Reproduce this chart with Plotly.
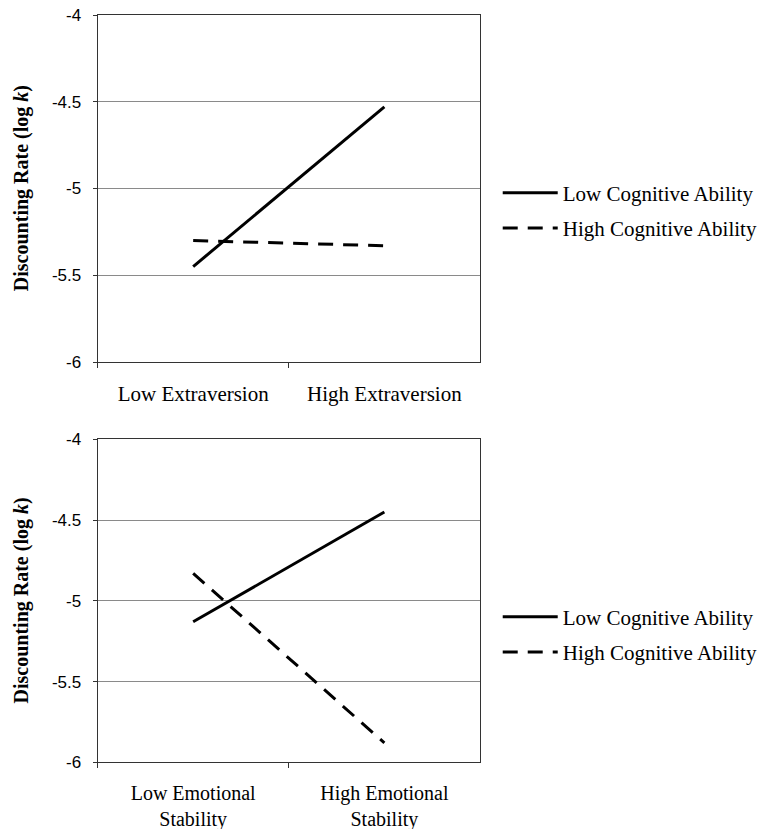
import plotly.graph_objects as go

# Data
top_categories = ["Low Extraversion", "High Extraversion"]
bottom_categories = ["Low Emotional<br>Stability", "High Emotional<br>Stability"]
series_names = ["Low Cognitive Ability", "High Cognitive Ability"]
top_low_ability = [-5.45, -4.53]
top_high_ability = [-5.30, -5.33]
bottom_low_ability = [-5.13, -4.45]
bottom_high_ability = [-4.83, -5.88]
y_tick_values = [-6, -5.5, -5, -4.5, -4]
y_tick_labels = ["-6", "-5.5", "-5", "-4.5", "-4"]
y_title = "Discounting Rate (log <i>k</i>)"

W, H = 763, 829
SERIF = "Liberation Serif, Times New Roman, serif"
SANS = "Liberation Sans, Arial, sans-serif"

fig = go.Figure()

solid = dict(color="black", width=3)
dashed = dict(color="black", width=3, dash="15px,10px")
fig.add_trace(go.Scatter(x=top_categories, y=top_low_ability, mode="lines",
                         name=series_names[0], line=solid, legendgroup="a",
                         xaxis="x", yaxis="y", legend="legend"))
fig.add_trace(go.Scatter(x=top_categories, y=top_high_ability, mode="lines",
                         name=series_names[1], line=dashed, legendgroup="b",
                         xaxis="x", yaxis="y", legend="legend"))
fig.add_trace(go.Scatter(x=bottom_categories, y=bottom_low_ability, mode="lines",
                         name=series_names[0], line=solid, legendgroup="c",
                         xaxis="x2", yaxis="y2", legend="legend2"))
fig.add_trace(go.Scatter(x=bottom_categories, y=bottom_high_ability, mode="lines",
                         name=series_names[1], line=dashed, legendgroup="d",
                         xaxis="x2", yaxis="y2", legend="legend2"))

def px_x(p):
    return p / W

def px_y(p):
    return 1 - p / H

x_dom = [px_x(99), px_x(487)]
top_dom = [px_y(362), px_y(15)]
bot_dom = [px_y(762.3), px_y(439.3)]

xaxis_common = dict(
    type="category", range=[-0.5, 1.5], domain=x_dom,
    showline=True, linecolor="#333", linewidth=1, mirror=True,
    ticks="outside", tickson="boundaries", ticklen=5, tickcolor="#333",
    showgrid=False, zeroline=False, automargin=False,
    tickfont=dict(family=SERIF, size=21, color="black"),
    ticklabelstandoff=13, fixedrange=True, ticklabeloverflow="allow",
)
yaxis_common = dict(
    range=[-6, -4], tickvals=y_tick_values, ticktext=y_tick_labels,
    showline=True, linecolor="#333", linewidth=1, mirror=True,
    ticks="outside", ticklen=4, tickcolor="#333", automargin=False,
    showgrid=True, gridcolor="#8a8a8a", gridwidth=1, zeroline=False,
    tickfont=dict(family=SANS, size=17, color="black"),
    ticklabelstandoff=8, ticklabeloverflow="allow",
    fixedrange=True,
)

legend_common = dict(
    font=dict(family=SERIF, size=21, color="black"),
    bgcolor="rgba(0,0,0,0)", borderwidth=0,
    xanchor="left", yanchor="middle", itemwidth=55,
    tracegroupgap=5,
)

title_font = dict(family=SERIF, size=20, color="black", weight="bold")
annotations = [
    dict(text=y_title, textangle=-90, xref="paper", yref="paper",
         x=px_x(22), y=(top_dom[0] + top_dom[1]) / 2, xanchor="center", yanchor="middle",
         showarrow=False, font=title_font),
    dict(text=y_title, textangle=-90, xref="paper", yref="paper",
         x=px_x(22), y=(bot_dom[0] + bot_dom[1]) / 2, xanchor="center", yanchor="middle",
         showarrow=False, font=title_font),
]

fig.update_layout(
    width=W, height=H,
    margin=dict(l=0, r=0, t=0, b=0),
    paper_bgcolor="white", plot_bgcolor="white",
    xaxis=dict(xaxis_common, anchor="y"),
    yaxis=dict(yaxis_common, domain=top_dom, anchor="x"),
    xaxis2=dict(xaxis_common, anchor="y2", tickfont=dict(family=SERIF, size=20, color="black"),
                ticklabelstandoff=13),
    yaxis2=dict(yaxis_common, domain=bot_dom, anchor="x2"),
    legend=dict(legend_common, x=px_x(505), y=px_y(210.5)),
    legend2=dict(legend_common, x=px_x(505), y=px_y(634.5)),
    annotations=annotations,
    showlegend=True,
)

page_css = ("document.documentElement.style.margin='0';"
            "document.body.style.margin='0';"
            "document.body.style.overflow='hidden';"
            "document.documentElement.style.overflow='hidden';")
fig.write_html("out.html", post_script=page_css,
               config={"responsive": False, "displayModeBar": False})
